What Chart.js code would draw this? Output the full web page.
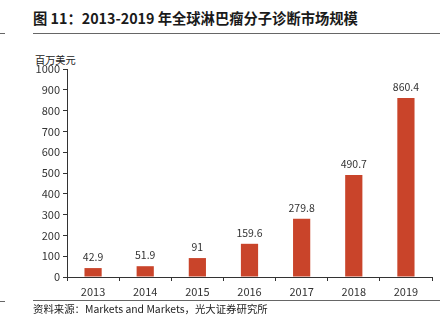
<!DOCTYPE html>
<html>
<head>
<meta charset="utf-8">
<script src="https://cdn.jsdelivr.net/npm/chart.js@4/dist/chart.umd.min.js"></script>
<style>
html,body{margin:0;padding:0;background:#fff;}
#wrap{position:relative;width:445px;height:325px;overflow:hidden;font-family:"Noto Sans CJK SC","Noto Sans",sans-serif;}
#title{position:absolute;left:33px;top:7px;font-size:14.3px;font-weight:bold;color:#1a1a1a;white-space:nowrap;}
.hl{position:absolute;height:1px;background:#666;}
#unit{position:absolute;left:35px;top:52px;font-size:10.2px;color:#222;}
#foot{position:absolute;left:33px;top:301px;font-size:10.4px;color:#222;white-space:nowrap;}
#c{position:absolute;left:0;top:0;}
</style>
</head>
<body>
<div id="wrap">
<div id="title">图 11：2013-2019 年全球淋巴瘤分子诊断市场规模</div>
<div class="hl" style="left:33px;top:33px;width:407px;"></div>
<div class="hl" style="left:0;top:33px;width:5px;"></div>
<div id="unit">百万美元</div>
<canvas id="c" width="445" height="325"></canvas>
<div class="hl" style="left:33px;top:300px;width:407px;"></div>
<div class="hl" style="left:0;top:301px;width:5px;"></div>
<div id="foot">资料来源：Markets and Markets，光大证券研究所</div>
</div>
<script>
const years = ["2013","2014","2015","2016","2017","2018","2019"];
const marketSize = [42.9, 51.9, 91, 159.6, 279.8, 490.7, 860.4];
const valueLabels = ["42.9","51.9","91","159.6","279.8","490.7","860.4"];
const yTicks = [0,100,200,300,400,500,600,700,800,900,1000];

const labelPlugin = {
  id: 'vlabels',
  afterDatasetsDraw(chart) {
    const ctx = chart.ctx;
    const meta = chart.getDatasetMeta(0);
    ctx.save();
    ctx.font = '10.5px "Noto Sans CJK SC", "Noto Sans", sans-serif';
    ctx.fillStyle = '#333';
    ctx.textAlign = 'center';
    ctx.textBaseline = 'bottom';
    meta.data.forEach((bar, i) => {
      ctx.fillText(valueLabels[i], bar.x, bar.y - 6);
    });
    ctx.restore();
  }
};

new Chart(document.getElementById('c'), {
  type: 'bar',
  data: {
    labels: years,
    datasets: [{
      data: marketSize,
      backgroundColor: '#C9442A',
      borderWidth: 0,
      barPercentage: 0.33,
      categoryPercentage: 1.0
    }]
  },
  options: {
    responsive: false,
    animation: false,
    devicePixelRatio: 1,
    layout: { padding: { top: 69, right: 13, left: 0, bottom: 0 } },
    plugins: { legend: { display: false }, tooltip: { enabled: false } },
    scales: {
      x: {
        afterFit(s) { s.height = 48; },
        grid: { offset: true, drawOnChartArea: false, drawTicks: true, tickLength: 4, color: '#333', tickWidth: 1 },
        border: { color: '#333', width: 1 },
        ticks: { color: '#333', font: { size: 11, family: '"Noto Sans CJK SC", "Noto Sans", sans-serif' }, padding: 4 }
      },
      y: {
        min: 0, max: 1000,
        afterFit(s) { s.width = 67; },
        afterBuildTicks(s) { s.ticks = yTicks.map(v => ({ value: v })); },
        grid: { drawOnChartArea: false, drawTicks: true, tickLength: 4, color: '#333' },
        border: { color: '#333', width: 1 },
        ticks: { color: '#333', font: { size: 11, family: '"Noto Sans CJK SC", "Noto Sans", sans-serif' }, padding: 3,
                 callback: (v) => String(v) }
      }
    }
  },
  plugins: [labelPlugin]
});
</script>
</body>
</html>
